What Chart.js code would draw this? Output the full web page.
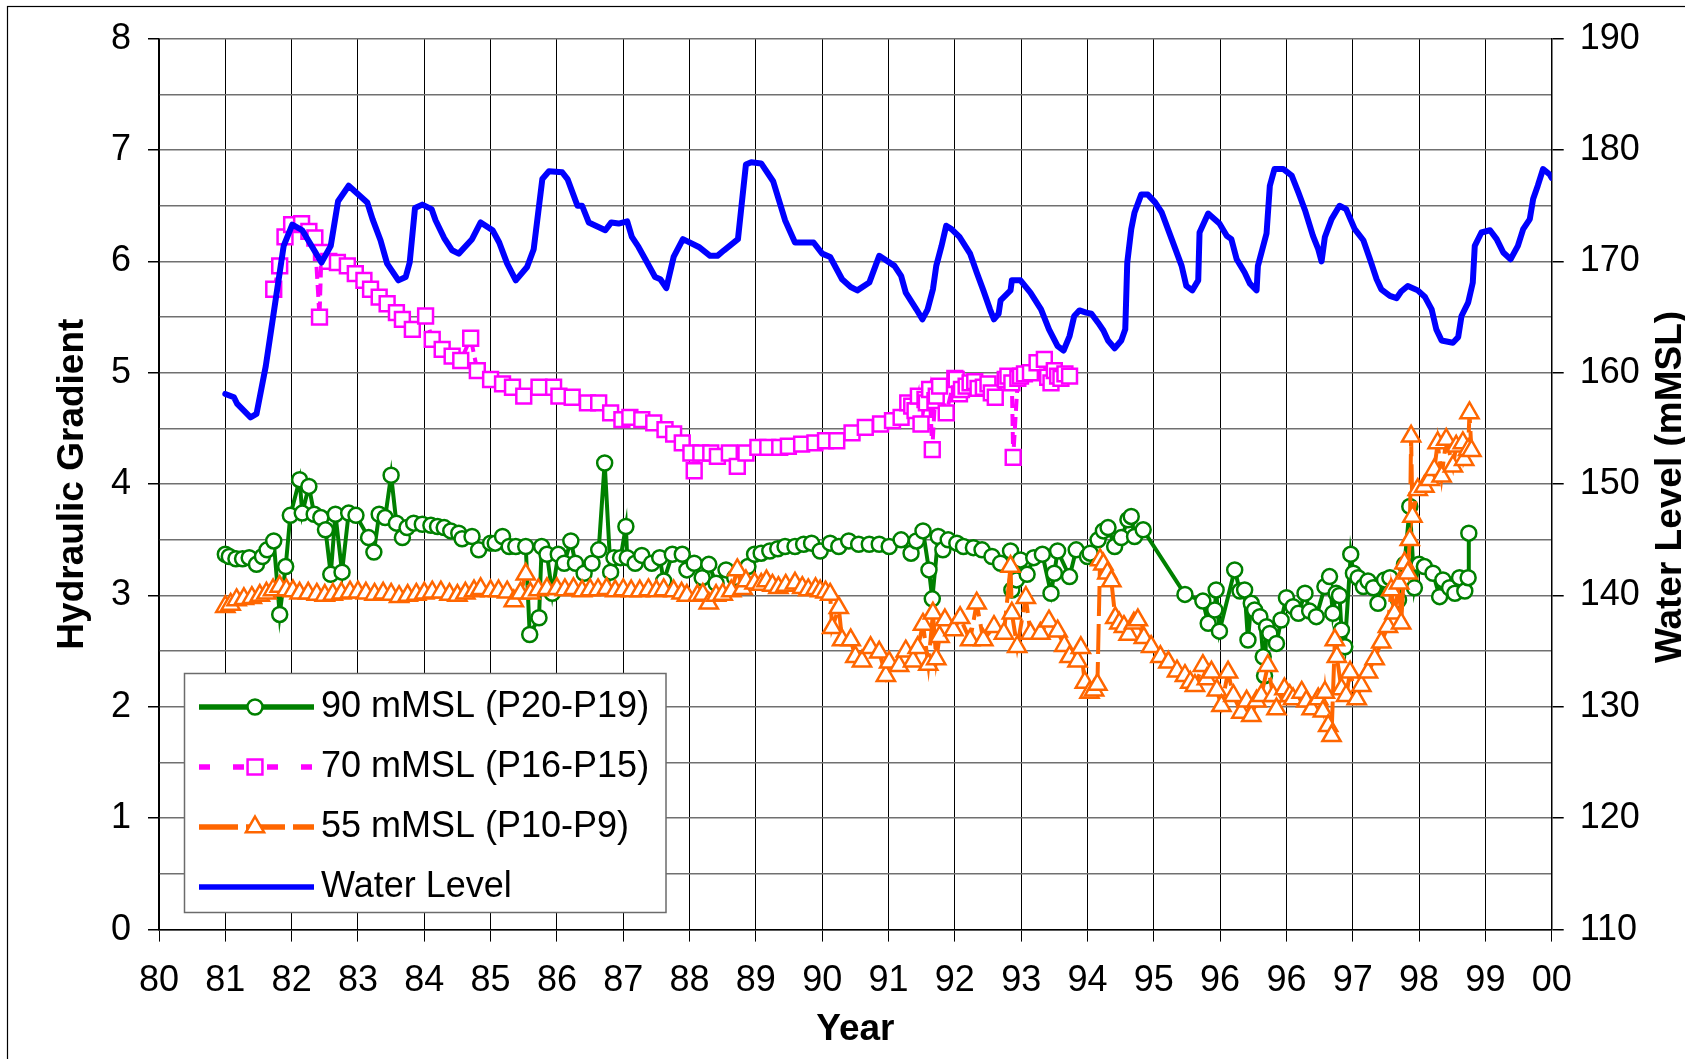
<!DOCTYPE html>
<html>
<head>
<meta charset="utf-8">
<script src="https://cdn.jsdelivr.net/npm/chart.js@4.4.1/dist/chart.umd.min.js"></script>
<style>
  html, body { margin: 0; padding: 0; background: #fff; }
  canvas { display: block; }
</style>
</head>
<body>
<canvas id="chart" width="1685" height="1059"></canvas>
<script>
// x is in axis units: one unit per gridline, labelled from xTickLabels
const xTickLabels = ['80','81','82','83','84','85','86','87','88','89','90',
  '91','92','93','94','95','96','96','97','98','99','00'];

const seriesLabels = ['90 mMSL (P20-P19)', '70 mMSL (P16-P15)', '55 mMSL (P10-P9)', 'Water Level'];

// Water level (mMSL), right axis
const waterYear = [81.0,81.13,81.18,81.38,81.47,81.61,81.76,81.88,82.01,82.16,82.45,82.59,82.70,82.86,
  83.14,83.22,83.34,83.44,83.61,83.72,83.78,83.86,83.97,84.11,84.17,84.30,84.42,84.52,84.72,84.85,
  85.03,85.13,85.25,85.38,85.55,85.65,85.78,85.88,86.08,86.16,86.31,86.38,86.48,86.73,86.82,86.93,
  87.06,87.13,87.23,87.36,87.48,87.56,87.65,87.76,87.90,88.14,88.31,88.42,88.52,88.73,88.85,88.93,
  89.08,89.26,89.44,89.59,89.87,90.0,90.12,90.30,90.43,90.53,90.71,90.86,91.09,91.19,91.26,91.42,
  91.51,91.59,91.67,91.72,91.80,91.87,91.95,92.07,92.23,92.33,92.43,92.53,92.59,92.66,92.69,92.84,
  92.86,92.99,93.14,93.30,93.42,93.55,93.64,93.73,93.80,93.88,93.98,94.06,94.16,94.24,94.31,94.41,
  94.51,94.57,94.60,94.66,94.71,94.81,94.91,95.02,95.12,95.27,95.42,95.49,95.58,95.67,95.69,95.82,
  95.99,96.10,96.17,96.25,96.37,96.45,96.55,96.57,96.70,96.75,96.82,96.95,97.08,97.18,97.28,97.40,
  97.48,97.53,97.58,97.68,97.80,97.90,98.03,98.16,98.26,98.36,98.43,98.56,98.66,98.73,98.83,98.98,
  99.09,99.19,99.26,99.34,99.51,99.59,99.64,99.74,99.81,99.84,99.94,100.07,100.17,100.27,100.38,
  100.49,100.57,100.67,100.72,100.79,100.87,100.97,101.0];
const waterLevel = [158.1,157.8,157.2,156.0,156.3,160.6,166.6,171.4,173.3,172.8,169.9,171.4,175.4,176.8,
  175.3,173.8,171.9,169.8,168.3,168.6,169.9,174.8,175.1,174.7,173.7,172.1,171.0,170.7,172.0,173.5,
  172.8,171.7,169.8,168.3,169.5,171.1,177.4,178.1,178.0,177.4,175.0,175.0,173.5,172.8,173.5,173.4,
  173.6,172.2,171.3,169.9,168.6,168.4,167.6,170.4,172.0,171.3,170.5,170.5,171.0,172.0,178.7,178.9,
  178.8,177.2,173.7,171.7,171.7,170.7,170.4,168.4,167.7,167.4,168.1,170.5,169.6,168.7,167.2,165.7,
  164.8,165.7,167.5,169.6,171.4,173.2,172.9,172.2,170.7,169.0,167.4,165.7,164.8,165.3,166.5,167.4,
  168.3,168.3,167.2,165.7,163.9,162.4,162.0,163.3,165.1,165.6,165.4,165.3,164.5,163.8,162.9,162.2,
  162.9,163.9,169.9,172.9,174.4,176.0,176.0,175.3,174.4,172.0,169.6,167.8,167.4,168.3,172.6,174.3,
  173.4,172.3,172.0,170.2,169.0,168.0,167.4,169.6,172.5,176.8,178.3,178.3,177.7,176.2,174.6,172.3,
  171.1,170.0,172.2,173.8,175.0,174.7,172.9,171.9,170.2,168.4,167.5,166.9,166.7,167.3,167.8,167.4,
  166.8,165.7,163.9,162.9,162.7,163.2,165.1,166.3,168.1,171.4,172.6,172.8,172.0,170.8,170.2,
  171.4,172.9,173.8,175.6,176.8,178.3,177.8,177.5];

// 90 mMSL (P20-P19)
const g90Year = [81.00,81.06,81.16,81.26,81.36,81.47,81.56,81.63,81.73,81.82,81.91,81.98,82.12,82.16,
  82.26,82.34,82.44,82.51,82.59,82.66,82.76,82.86,82.97,83.16,83.24,83.32,83.41,83.50,83.58,83.67,
  83.74,83.84,83.97,84.10,84.20,84.30,84.40,84.52,84.57,84.72,84.82,85.00,85.07,85.18,85.28,85.38,
  85.53,85.59,85.73,85.77,85.85,85.93,86.02,86.11,86.21,86.28,86.41,86.53,86.63,86.72,86.81,86.86,
  86.96,87.04,87.06,87.18,87.28,87.43,87.55,87.61,87.74,87.89,87.96,88.07,88.19,88.29,88.40,88.55,
  88.68,88.88,88.98,89.08,89.21,89.33,89.44,89.59,89.72,89.84,89.97,90.12,90.25,90.40,90.55,90.71,
  90.86,91.01,91.19,91.34,91.42,91.52,91.61,91.66,91.75,91.82,91.90,92.03,92.13,92.28,92.41,92.56,
  92.69,92.84,92.86,92.93,92.99,93.09,93.19,93.32,93.45,93.50,93.55,93.73,93.83,94.00,94.04,94.16,
  94.24,94.31,94.41,94.51,94.61,94.66,94.71,94.84,95.47,95.74,95.82,95.92,95.94,95.99,96.22,96.30,
  96.37,96.42,96.47,96.52,96.60,96.65,96.67,96.70,96.75,96.85,96.92,97.00,97.10,97.18,97.28,97.35,
  97.45,97.58,97.65,97.70,97.75,97.80,97.83,97.88,97.97,98.01,98.08,98.16,98.23,98.31,98.38,98.48,
  98.56,98.69,98.78,98.86,98.93,99.00,99.08,99.21,99.31,99.36,99.46,99.54,99.61,99.69,99.74,99.75];
const g90Val = [3.37,3.35,3.33,3.33,3.34,3.28,3.35,3.41,3.49,2.83,3.26,3.72,4.04,3.74,
  3.98,3.73,3.70,3.59,3.19,3.73,3.21,3.74,3.72,3.52,3.39,3.73,3.70,4.08,3.65,3.52,
  3.61,3.65,3.64,3.63,3.62,3.61,3.58,3.56,3.51,3.53,3.41,3.47,3.47,3.53,3.44,3.44,
  3.44,2.65,2.80,3.44,3.37,3.02,3.37,3.29,3.49,3.29,3.20,3.29,3.41,4.19,3.21,3.34,
  3.34,3.62,3.34,3.29,3.36,3.29,3.34,3.13,3.37,3.37,3.23,3.29,3.16,3.28,3.11,3.23,
  3.16,3.26,3.37,3.38,3.40,3.42,3.44,3.44,3.46,3.47,3.40,3.47,3.44,3.49,3.46,3.46,
  3.46,3.44,3.50,3.38,3.49,3.58,3.23,2.97,3.53,3.41,3.50,3.47,3.44,3.43,3.41,3.35,
  3.29,3.40,3.05,3.14,3.32,3.19,3.34,3.37,3.02,3.20,3.40,3.17,3.41,3.35,3.38,3.50,
  3.58,3.61,3.44,3.52,3.68,3.71,3.53,3.59,3.01,2.95,2.75,2.87,3.05,2.68,3.23,3.04,
  3.05,2.60,2.93,2.87,2.81,2.45,2.28,2.72,2.66,2.57,2.78,2.98,2.90,2.84,3.02,2.86,
  2.81,3.08,3.17,2.84,3.02,3.00,2.69,2.54,3.37,3.20,3.16,3.08,3.13,3.07,2.93,3.14,
  3.16,2.96,3.28,3.80,3.07,3.28,3.26,3.20,2.99,3.14,3.07,3.02,3.16,3.04,3.16,3.56];

// 70 mMSL (P16-P15)
const g70Year = [81.73,81.82,81.90,82.00,82.15,82.26,82.35,82.42,82.45,82.56,82.69,82.84,82.96,83.09,
  83.19,83.32,83.44,83.58,83.67,83.82,84.02,84.12,84.27,84.42,84.55,84.70,84.80,85.00,85.18,85.33,
  85.50,85.73,85.95,86.03,86.23,86.46,86.63,86.81,86.98,87.10,87.28,87.46,87.63,87.76,87.89,88.02,
  88.07,88.17,88.32,88.42,88.60,88.72,88.85,89.03,89.18,89.36,89.49,89.69,89.89,90.05,90.22,90.45,
  90.65,90.88,91.06,91.19,91.29,91.35,91.40,91.45,91.49,91.55,91.57,91.62,91.66,91.70,91.72,91.77,
  91.87,92.00,92.02,92.07,92.10,92.17,92.23,92.30,92.35,92.43,92.50,92.55,92.61,92.76,92.80,92.86,
  92.88,92.95,92.99,93.05,93.14,93.24,93.35,93.40,93.45,93.50,93.55,93.60,93.66,93.73];
const g70Val = [5.75,5.96,6.22,6.33,6.34,6.27,6.21,5.50,6.08,6.00,5.99,5.96,5.89,5.83,
  5.75,5.68,5.62,5.54,5.48,5.39,5.51,5.30,5.21,5.15,5.11,5.31,5.02,4.94,4.90,4.87,
  4.79,4.87,4.87,4.79,4.78,4.73,4.73,4.64,4.58,4.60,4.58,4.55,4.49,4.45,4.37,4.28,
  4.12,4.28,4.28,4.25,4.28,4.16,4.28,4.33,4.33,4.33,4.34,4.36,4.37,4.39,4.39,4.46,
  4.51,4.54,4.57,4.60,4.73,4.70,4.66,4.79,4.54,4.76,4.73,4.85,4.31,4.75,4.79,4.88,
  4.64,4.95,4.94,4.81,4.85,4.88,4.91,4.92,4.86,4.87,4.90,4.82,4.78,4.94,4.97,4.91,
  4.24,4.95,4.97,4.99,5.00,5.09,5.12,4.96,4.91,5.02,4.97,4.95,4.99,4.97];

// 55 mMSL (P10-P9)
const g55Year = [81.00,81.08,81.17,81.28,81.40,81.52,81.62,81.72,81.82,81.92,82.02,82.12,82.25,82.38,
  82.50,82.62,82.75,82.88,83.00,83.12,83.25,83.38,83.50,83.62,83.75,83.88,84.00,84.12,84.25,84.38,
  84.50,84.62,84.75,84.85,85.00,85.12,85.25,85.35,85.45,85.53,85.60,85.72,85.85,86.00,86.12,86.25,
  86.38,86.50,86.62,86.75,86.88,87.00,87.12,87.25,87.38,87.50,87.61,87.76,87.88,87.96,88.12,88.20,
  88.29,88.40,88.50,88.63,88.72,88.80,88.85,88.98,89.08,89.16,89.25,89.34,89.45,89.59,89.70,89.79,
  89.90,89.97,90.05,90.12,90.15,90.25,90.30,90.43,90.50,90.60,90.73,90.86,90.96,91.01,91.16,91.26,
  91.37,91.44,91.52,91.60,91.67,91.72,91.77,91.85,91.98,92.08,92.23,92.33,92.43,92.59,92.74,92.84,
  92.86,92.94,93.07,93.14,93.29,93.42,93.55,93.65,93.73,93.85,93.90,93.96,94.03,94.10,94.15,94.19,
  94.24,94.30,94.36,94.42,94.48,94.55,94.62,94.70,94.76,94.85,94.96,95.10,95.22,95.35,95.47,95.55,
  95.62,95.74,95.80,95.87,95.95,96.02,96.12,96.20,96.32,96.40,96.47,96.55,96.62,96.72,96.80,96.85,
  96.97,97.05,97.10,97.23,97.30,97.38,97.48,97.55,97.58,97.63,97.68,97.73,97.76,97.83,97.90,97.96,
  98.06,98.13,98.23,98.33,98.43,98.53,98.58,98.63,98.70,98.73,98.78,98.83,98.86,98.88,98.90,98.98,
  99.08,99.16,99.23,99.28,99.34,99.41,99.51,99.56,99.66,99.68,99.74,99.76,99.79];
const g55Val = [2.90,2.92,2.96,2.97,2.98,3.00,3.02,3.05,3.08,3.05,3.04,3.02,3.02,3.01,
  3.00,3.01,3.02,3.03,3.03,3.02,3.01,3.02,3.01,2.99,3.00,3.01,3.02,3.03,3.03,3.01,
  3.00,3.02,3.04,3.06,3.04,3.04,3.03,2.95,3.02,3.19,3.02,3.05,3.06,3.06,3.05,3.06,
  3.04,3.05,3.05,3.06,3.04,3.05,3.04,3.04,3.05,3.04,3.05,3.04,3.02,3.00,3.00,3.01,
  2.93,3.00,3.01,3.04,3.23,3.06,3.13,3.11,3.10,3.13,3.09,3.07,3.09,3.11,3.07,3.05,
  3.06,3.04,3.03,3.01,2.71,2.89,2.60,2.60,2.45,2.41,2.53,2.49,2.28,2.40,2.37,2.50,
  2.41,2.53,2.74,2.38,2.84,2.43,2.63,2.78,2.69,2.80,2.60,2.93,2.60,2.72,2.66,3.26,
  2.84,2.54,2.98,2.66,2.66,2.77,2.68,2.55,2.45,2.41,2.53,2.22,2.13,2.15,2.20,3.32,
  3.28,3.20,3.13,2.80,2.75,2.72,2.65,2.75,2.78,2.62,2.54,2.45,2.40,2.32,2.28,2.22,
  2.19,2.37,2.25,2.31,2.15,2.01,2.31,2.10,1.95,2.05,1.92,2.05,2.10,2.37,2.10,1.98,
  2.16,2.10,2.07,2.13,2.05,1.98,2.07,1.96,2.13,1.83,1.74,2.60,2.45,2.16,2.10,2.31,
  2.07,2.19,2.31,2.43,2.58,2.72,3.05,2.84,3.11,2.75,3.29,3.20,3.50,4.43,3.71,3.95,
  3.98,4.04,4.13,4.37,4.07,4.40,4.16,4.34,4.37,4.22,4.31,4.64,4.30];

const toPoints = (xs, ys) => xs.map((x, i) => ({ x: x, y: ys[i] }));

const FONT = '"Liberation Sans", Arial, sans-serif';
Chart.defaults.font.family = FONT;
Chart.defaults.color = '#000';

const tickFont = { family: FONT, size: 36 };
const titleFont = { family: FONT, size: 37, weight: 'bold' };

// page frame, legend box and right-hand title
const decorations = {
  id: 'decorations',
  beforeDraw(chart) {
    const ctx = chart.ctx;
    ctx.save();
    ctx.fillStyle = '#fff';
    ctx.fillRect(0, 0, chart.width, chart.height);
    ctx.strokeStyle = '#000';
    ctx.lineWidth = 1.2;
    ctx.strokeRect(7.5, 6.5, 1700, 1080);
    ctx.restore();
  },
  afterDraw(chart) {
    const ctx = chart.ctx;
    ctx.save();
    // right axis title reads bottom to top
    ctx.translate(1671, 487);
    ctx.rotate(-Math.PI / 2);
    ctx.font = 'bold 37px ' + FONT;
    ctx.fillStyle = '#000';
    ctx.textAlign = 'center';
    ctx.textBaseline = 'middle';
    ctx.fillText('Water Level (mMSL)', 0, 0);
    ctx.restore();

    // legend
    ctx.save();
    ctx.fillStyle = '#fff';
    ctx.fillRect(184.5, 673.5, 481.5, 239);
    ctx.strokeStyle = '#6b6b6b';
    ctx.lineWidth = 1.5;
    ctx.strokeRect(184.5, 673.5, 481.5, 239);
    const rows = [707, 767, 827, 887];
    chart.data.datasets.forEach((ds, i) => {
      const y = rows[i];
      ctx.strokeStyle = ds.borderColor;
      ctx.lineWidth = 5.5;
      ctx.lineCap = 'butt';
      ctx.setLineDash(ds.legendDash || []);
      ctx.beginPath();
      ctx.moveTo(199, y);
      ctx.lineTo(314, y);
      ctx.stroke();
      ctx.setLineDash([]);
      if (ds.pointRadius > 0) {
        ctx.fillStyle = '#fff';
        ctx.strokeStyle = ds.pointBorderColor;
        ctx.lineWidth = ds.pointBorderWidth;
        Chart.helpers.drawPoint(ctx, {
          pointStyle: ds.pointStyle, rotation: 0,
          radius: ds.pointRadius, borderWidth: ds.pointBorderWidth
        }, 255, y);
      }
      ctx.fillStyle = '#000';
      ctx.font = '36px ' + FONT;
      ctx.textAlign = 'left';
      ctx.textBaseline = 'middle';
      ctx.fillText(ds.label, 321, y);
    });
    ctx.restore();
  }
};

new Chart(document.getElementById('chart'), {
  type: 'line',
  data: {
    datasets: [
      {
        label: seriesLabels[0],
        data: toPoints(g90Year, g90Val),
        yAxisID: 'y',
        borderColor: '#008000',
        borderWidth: 4,
        pointStyle: 'circle',
        pointRadius: 7.5,
        pointBorderWidth: 2.5,
        pointBorderColor: '#008000',
        pointBackgroundColor: '#fff',
        order: 4
      },
      {
        label: seriesLabels[1],
        data: toPoints(g70Year, g70Val),
        yAxisID: 'y',
        borderColor: '#ff00ff',
        borderWidth: 4,
        borderDash: [12, 6],
        legendDash: [11, 23],
        pointStyle: 'rect',
        pointRadius: 10.5,
        pointBorderWidth: 2.5,
        pointBorderColor: '#ff00ff',
        pointBackgroundColor: '#fff',
        order: 3
      },
      {
        label: seriesLabels[2],
        data: toPoints(g55Year, g55Val),
        yAxisID: 'y',
        borderColor: '#ff6600',
        borderWidth: 4,
        borderDash: [30, 8],
        legendDash: [39, 8],
        pointStyle: 'triangle',
        pointRadius: 10.5,
        pointBorderWidth: 2.5,
        pointBorderColor: '#ff6600',
        pointBackgroundColor: '#fff',
        order: 2
      },
      {
        label: seriesLabels[3],
        data: toPoints(waterYear, waterLevel),
        yAxisID: 'y2',
        borderColor: '#0000ff',
        borderWidth: 6,
        borderJoinStyle: 'round',
        borderCapStyle: 'round',
        pointRadius: 0,
        order: 1
      }
    ]
  },
  options: {
    responsive: false,
    animation: false,
    devicePixelRatio: 1,
    layout: { padding: { top: 38.7, left: 0, right: 0, bottom: 0 } },
    elements: { line: { tension: 0 } },
    plugins: {
      legend: { display: false },
      tooltip: { enabled: false }
    },
    scales: {
      x: {
        type: 'linear',
        position: 'bottom',
        min: 80,
        max: 101,
        ticks: {
          stepSize: 1,
          autoSkip: false,
          maxRotation: 0,
          padding: 18,
          font: tickFont,
          color: '#000',
          callback: (v) => xTickLabels[Math.round(v - 80)] || ''
        },
        grid: { color: '#000', lineWidth: 1, tickLength: 12, tickColor: '#000' },
        border: { color: '#000', width: 1.5 },
        title: { display: true, text: 'Year', font: titleFont, color: '#000', padding: { top: 0, bottom: 7 } },
        afterFit: (s) => { s.height = 129.4; }
      },
      y: {
        type: 'linear',
        position: 'left',
        min: 0,
        max: 8,
        ticks: {
          stepSize: 0.5,
          padding: 17,
          font: tickFont,
          color: '#000',
          callback: (v) => Number.isInteger(v) ? String(v) : ''
        },
        grid: {
          color: '#707070',
          lineWidth: 1.5,
          tickLength: 11,
          tickColor: (c) => (c.tick && Number.isInteger(c.tick.value)) ? '#000' : 'rgba(0,0,0,0)'
        },
        border: { color: '#000', width: 1.5 },
        title: { display: true, text: 'Hydraulic Gradient', font: titleFont, color: '#000', padding: { top: 51, bottom: 0 } },
        afterFit: (s) => { s.width = 159; }
      },
      y2: {
        type: 'linear',
        position: 'right',
        min: 110,
        max: 190,
        ticks: {
          stepSize: 5,
          padding: 16,
          font: tickFont,
          color: '#000',
          callback: (v) => (v % 10 === 0) ? String(v) : ''
        },
        grid: {
          drawOnChartArea: false,
          tickLength: 12,
          lineWidth: 1.5,
          tickColor: (c) => (c.tick && c.tick.value % 10 === 0) ? '#000' : 'rgba(0,0,0,0)'
        },
        border: { color: '#000', width: 1.5 },
        afterFit: (s) => { s.width = 133.3; }
      }
    }
  },
  plugins: [decorations]
});
</script>
</body>
</html>
